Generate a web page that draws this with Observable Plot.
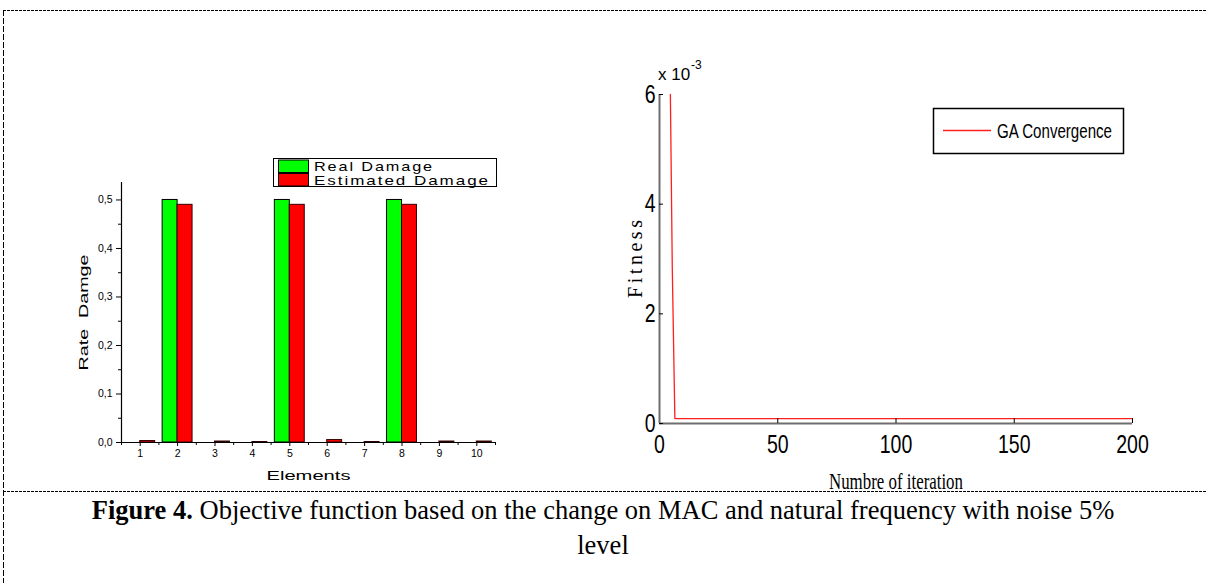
<!DOCTYPE html>
<html><head><meta charset="utf-8">
<script src="https://cdn.jsdelivr.net/npm/d3@7"></script>
<script src="https://cdn.jsdelivr.net/npm/@observablehq/plot@0.6"></script>
<style>
body{margin:0;background:#fff;}
#wrap{position:relative;width:1206px;height:583px;overflow:hidden;background:#fff;}
.abs{position:absolute;left:0;top:0;}
svg{overflow:visible;}
#caption{position:absolute;left:0;width:1206px;top:493px;text-align:center;font-family:"Liberation Serif","Times New Roman",serif;font-size:26.5px;line-height:35px;color:#000;}
</style></head><body><div id="wrap"></div>
<script>
// ---- data: left chart (bar chart) ----
const elements = [1, 2, 3, 4, 5, 6, 7, 8, 9, 10];
const realDamage = [0, 0.5, 0, 0, 0.5, 0, 0, 0.5, 0, 0];
const estimatedDamage = [0.003, 0.49, 0.002, 0.001, 0.49, 0.005, 0.001, 0.49, 0.002, 0.002];
const rateTicks = [0, 0.1, 0.2, 0.3, 0.4, 0.5];
const rateMinorTicks = [0.05, 0.15, 0.25, 0.35, 0.45];
const seriesNames = ["Real Damage", "Estimated Damage"];
// ---- data: right chart (GA convergence) ----
const iteration = [4.6, 5.4, 6.5, 200];
const fitness = [0.0060, 0.00285, 0.00009, 0.00009];
const iterTicks = [0, 50, 100, 150, 200];
const fitnessTicks = [0, 0.002, 0.004, 0.006];
const lineName = "GA Convergence";

const wrap = document.getElementById("wrap");
const barRows = elements.map((e, i) => ({element: e, real: realDamage[i], est: estimatedDamage[i]}));
const boundaries = [0.5].concat(elements.map(e => e + 0.5));

const left = Plot.plot({
  width: 520, height: 500,
  marginLeft: 121, marginRight: 25, marginTop: 182, marginBottom: 58,
  style: {fontFamily: "'Liberation Sans', Arial, sans-serif", background: "transparent", overflow: "visible", color: "#000"},
  x: {domain: [0.5, 10.5]},
  y: {domain: [0, 0.536]},
  marks: [
    Plot.rect(barRows.filter(d => d.real > 0), {x1: d => d.element - 0.4, x2: "element", y1: 0, y2: "real", fill: "#00ff00", stroke: "#000", strokeWidth: 1}),
    Plot.rect(barRows, {x1: "element", x2: d => d.element + 0.4, y1: 0, y2: "est", fill: "#ff0000", stroke: "#300", strokeWidth: 1}),
    Plot.axisY({ticks: rateTicks, tickSize: 5, tickPadding: 4, fontSize: 10.5, tickFormat: d => d.toFixed(1).replace(".", ","), label: null}),
    Plot.axisY({ticks: rateMinorTicks, tickSize: 3, tickFormat: () => "", label: null}),
    Plot.axisX({ticks: elements, tickSize: 4, tickPadding: 3, fontSize: 10.5, tickFormat: d => String(d), label: null}),
    Plot.axisX({ticks: boundaries, tickSize: 3, tickFormat: () => "", label: null}),
    Plot.ruleY([0], {stroke: "#000", strokeWidth: 1.2}),
    Plot.ruleX([0.5], {stroke: "#000", strokeWidth: 1.2}),
    Plot.text(["Rate\u00a0\u00a0Damge"], {frameAnchor: "left", rotate: -90, dx: -38, fontSize: 13, textAnchor: "middle", lineAnchor: "middle"}),
    Plot.text(["Elements"], {frameAnchor: "bottom", dy: 33, fontSize: 13, textAnchor: "middle", lineAnchor: "middle"})
  ]
});
left.classList.add("abs");
wrap.appendChild(left);

const fitRows = iteration.map((t, i) => ({iteration: t, fitness: fitness[i]}));
const right = Plot.plot({
  width: 600, height: 500,
  marginLeft: 99, marginRight: 28, marginTop: 94, marginBottom: 77,
  style: {fontFamily: "'Liberation Sans Narrow', 'Arial Narrow', 'Liberation Sans', Arial, sans-serif", background: "transparent", overflow: "visible", color: "#000"},
  x: {domain: [0, 200]},
  y: {domain: [0, 0.006]},
  marks: [
    Plot.ruleY([0], {stroke: "#6e6e6e", strokeWidth: 2}),
    Plot.ruleX([0], {stroke: "#6e6e6e", strokeWidth: 2}),
    Plot.line(fitRows, {x: "iteration", y: "fitness", stroke: "#ff1f1f", strokeWidth: 1.3}),
    Plot.axisX({ticks: iterTicks, tickSize: 0, tickPadding: 12, fontSize: 25, tickFormat: d => String(d), label: null}),
    Plot.axisX({ticks: iterTicks.filter(d => d > 0), tickSize: -5, tickFormat: () => "", label: null}),
    Plot.axisY({ticks: fitnessTicks, tickSize: 0, tickPadding: 4, fontSize: 25, tickFormat: d => String(Math.round(d * 1000)), label: null}),
    Plot.axisY({ticks: fitnessTicks, tickSize: -4, tickFormat: () => "", label: null}),
    Plot.text(["Fitness"], {frameAnchor: "left", rotate: -90, dx: -24, fontSize: 20, fontFamily: "'Liberation Serif', 'Times New Roman', serif", textAnchor: "middle", lineAnchor: "middle"}),
    Plot.text(["Numbre of iteration"], {frameAnchor: "bottom", dy: 58, fontSize: 23, fontFamily: "'Liberation Serif', 'Times New Roman', serif", textAnchor: "middle", lineAnchor: "middle"})
  ]
});
right.classList.add("abs");
right.style.left = "560px";
wrap.appendChild(right);

// text fitting helpers
function fitText(node, len, mode) {
  node.setAttribute("textLength", len);
  node.setAttribute("lengthAdjust", mode);
}
function byContent(svg, s) {
  return Array.from(svg.querySelectorAll("text")).find(t => t.textContent === s);
}
fitText(byContent(left, "Rate\u00a0\u00a0Damge"), 116, "spacingAndGlyphs");
fitText(byContent(left, "Elements"), 84, "spacingAndGlyphs");
fitText(byContent(right, "Fitness"), 78, "spacing");
fitText(byContent(right, "Numbre of iteration"), 134, "spacingAndGlyphs");
// condensed tick labels on the right chart
right.querySelectorAll('g[aria-label="x-axis tick label"] text, g[aria-label="y-axis tick label"] text').forEach(t => {
  const w = t.getComputedTextLength();
  if (w > 0) fitText(t, w * 0.78, "spacingAndGlyphs");
});

// overlay: frame and legends
const ov = d3.select(wrap).append("svg").attr("class", "abs").attr("width", 1206).attr("height", 583).style("pointer-events", "none");
ov.append("line").attr("x1", 3).attr("x2", 1206).attr("y1", 10.5).attr("y2", 10.5).attr("stroke", "#000").attr("stroke-dasharray", "3,1");
ov.append("line").attr("x1", 3.5).attr("x2", 3.5).attr("y1", 10).attr("y2", 583).attr("stroke", "#000").attr("stroke-dasharray", "6,2");
ov.append("line").attr("x1", 3).attr("x2", 1206).attr("y1", 491.5).attr("y2", 491.5).attr("stroke", "#000").attr("stroke-dasharray", "3,1");

// left legend
const lg = ov.append("g").attr("font-family", "'Liberation Sans', Arial, sans-serif").attr("font-size", 13).style("letter-spacing", "1.5px");
lg.append("rect").attr("x", 273.5).attr("y", 158.5).attr("width", 223).attr("height", 28).attr("fill", "#fff").attr("stroke", "#000");
const swFill = ["#00ff00", "#ff0000"];
const txtLen = [120, 176];
seriesNames.forEach((n, i) => {
  lg.append("rect").attr("x", 278.5).attr("y", 160 + i * 13.5).attr("width", 30).attr("height", 12.5).attr("fill", swFill[i]).attr("stroke", "#000");
  lg.append("text").attr("x", 314).attr("y", 171 + i * 14).attr("textLength", txtLen[i]).attr("lengthAdjust", "spacingAndGlyphs").text(n);
});

// right legend
const rg = ov.append("g");
rg.append("rect").attr("x", 933.5).attr("y", 108.5).attr("width", 190).attr("height", 45).attr("fill", "#fff").attr("stroke", "#000").attr("stroke-width", 1.5);
rg.append("line").attr("x1", 943).attr("x2", 991).attr("y1", 130.5).attr("y2", 130.5).attr("stroke", "#ff1f1f").attr("stroke-width", 1.3);
rg.append("text").attr("x", 997).attr("y", 138).attr("font-family", "'Liberation Sans Narrow', 'Arial Narrow', 'Liberation Sans', Arial, sans-serif").attr("font-size", 20).attr("textLength", 115).attr("lengthAdjust", "spacingAndGlyphs").text(lineName);

// exponent label (x 10^-3)
const exFont = "'Liberation Sans Narrow', 'Arial Narrow', 'Liberation Sans', Arial, sans-serif";
ov.append("text").attr("x", 658).attr("y", 80).attr("font-family", exFont).attr("font-size", 17).text("x 10");
ov.append("text").attr("x", 691).attr("y", 69).attr("font-family", exFont).attr("font-size", 12).text("-3");

// caption
const cap = document.createElement("div");
cap.id = "caption";
cap.innerHTML = "<b>Figure 4.</b> Objective function based on the change on MAC and natural frequency with noise 5%<br>level";
wrap.appendChild(cap);
</script></body></html>
